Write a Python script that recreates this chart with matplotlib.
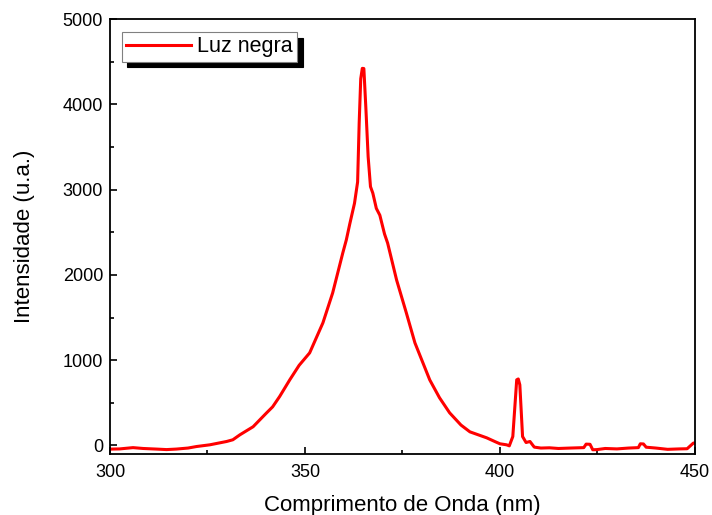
import numpy as np
import matplotlib.pyplot as plt

wavelength = [300.0, 300.4, 302.5, 305.9, 308.5, 311.9, 314.5, 317.0, 320.0, 322.2,
              325.6, 329.9, 331.5, 333.3, 336.7, 340.1, 341.7, 343.5, 346.1, 348.5,
              351.2, 354.6, 357.1, 359.7, 360.6, 361.5, 362.7, 363.5, 363.9, 364.3,
              364.7, 365.1, 365.6, 366.2, 366.8, 367.4, 368.3, 369.2, 370.4, 371.2,
              373.5, 376.0, 378.2, 382.0, 384.5, 387.1, 390.0, 392.3, 396.6, 399.0,
              400.0, 401.7, 402.4, 403.3, 404.3, 404.7, 405.1, 405.8, 406.7, 407.7,
              408.8, 410.5, 412.7, 415.0, 418.0, 421.5, 422.1, 423.1, 423.8, 424.9,
              427.0, 430.0, 433.0, 435.5, 436.0, 436.8, 437.5, 440.0, 443.0, 446.0,
              448.0, 449.6, 450.0]
intensity = [-45, -42, -40, -25, -35, -42, -48, -42, -30, -12,
             8, 47, 67, 125, 220, 380, 453, 574, 770, 940,
             1086, 1438, 1789, 2258, 2410, 2600, 2840, 3090, 3780, 4300,
             4422, 4420, 3972, 3386, 3035, 2959, 2780, 2700, 2480, 2373,
             1940, 1554, 1203, 769, 560, 383, 240, 160, 90, 40,
             20, 8, -4, 105, 770, 780, 711, 105, 35, 47,
             -19, -30, -27, -35, -30, -25, 16, 14, -50, -48,
             -35, -40, -30, -25, 20, 18, -20, -30, -45, -40,
             -38, 28, 30]

plt.rcParams['font.family'] = ['Liberation Sans', 'DejaVu Sans']

fig = plt.figure(figsize=(7.12, 5.15), dpi=100)
ax = fig.add_axes([0.1545, 0.1184, 0.8215, 0.8446])

ax.plot(wavelength, intensity, color='red', linewidth=2.2, label='Luz negra')

ax.set_xlim(300, 450)
ax.set_ylim(-100, 5000)
ax.set_xticks([300, 350, 400, 450])
ax.set_xticks([325, 375, 425], minor=True)
ax.set_yticks([0, 1000, 2000, 3000, 4000, 5000])
ax.set_yticks([500, 1500, 2500, 3500, 4500], minor=True)
ax.tick_params(which='both', direction='in', top=False, right=False,
               width=1.2, labelsize=13)
ax.tick_params(which='major', length=5)
ax.tick_params(which='minor', length=3)
ax.tick_params(axis='x', pad=7)
ax.tick_params(axis='y', pad=5)
for s in ax.spines.values():
    s.set_linewidth(1.3)

ax.set_xlabel('Comprimento de Onda (nm)', fontsize=16, labelpad=10)
ax.set_ylabel('Intensidade (u.a.)', fontsize=16, labelpad=20)

leg = ax.legend(loc='upper left', bbox_to_anchor=(0.02, 0.97), borderaxespad=0,
                fontsize=15.5, fancybox=False, framealpha=1, edgecolor='#808080',
                borderpad=0.2, handlelength=3.0, handletextpad=0.3,
                shadow={'ox': 4, 'oy': -4, 'facecolor': 'black',
                        'edgecolor': 'black', 'alpha': 1})
leg.get_frame().set_linewidth(0.8)

fig.savefig('out.png', dpi=100)
